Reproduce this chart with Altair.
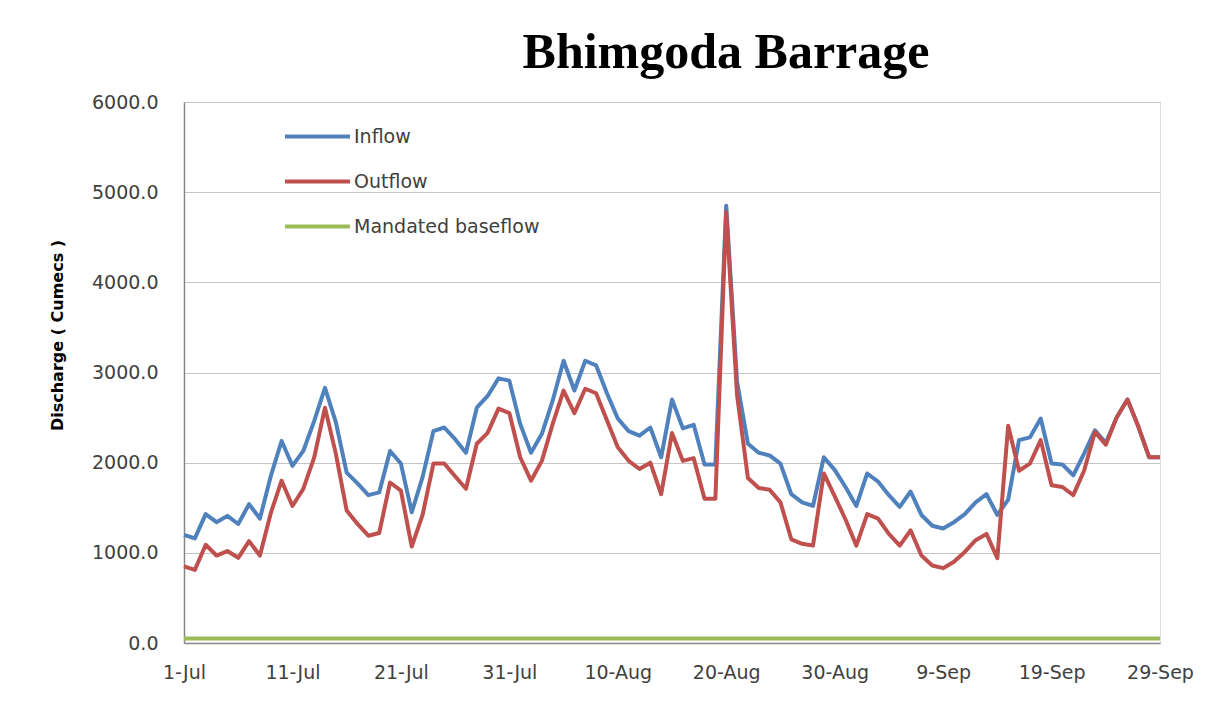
import altair as alt
import pandas as pd

# ---- data ----
days = [d.strftime("%Y-%m-%dT00:00:00") for d in pd.date_range("2010-07-01", "2010-09-29", freq="D")]

inflow = [
    1200, 1160, 1430, 1340, 1410, 1320, 1540, 1380, 1850, 2240,
    1965, 2130, 2460, 2830, 2450, 1890, 1770, 1640, 1670, 2130,
    1990, 1450, 1840, 2350, 2390, 2260, 2110, 2610, 2740, 2935,
    2910, 2430, 2110, 2320, 2690, 3130, 2800, 3130, 3080, 2770,
    2490, 2350, 2300, 2390, 2060, 2700, 2380, 2420, 1980, 1980,
    4850, 2900, 2210, 2110, 2080, 1990, 1650, 1560, 1520, 2060,
    1920, 1730, 1520, 1880, 1790, 1640, 1510, 1680, 1420, 1300,
    1270, 1340, 1430, 1560, 1650, 1420, 1590, 2250, 2280, 2490,
    1990, 1980, 1860, 2100, 2360, 2220, 2500, 2700, 2400, 2060,
    2060,
]

outflow = [
    850, 810, 1090, 970, 1020, 945, 1130, 970, 1440, 1800,
    1520, 1710, 2055, 2610, 2100, 1470, 1320, 1190, 1220, 1780,
    1690, 1070, 1420, 1990, 1990, 1850, 1710, 2210, 2330, 2600,
    2550, 2060, 1800, 2020, 2430, 2800, 2550, 2820, 2770, 2470,
    2170, 2020, 1930, 2000, 1650, 2330, 2020, 2050, 1600, 1600,
    4780, 2750, 1830, 1720, 1700, 1560, 1150, 1100, 1080, 1880,
    1630, 1370, 1080, 1430, 1380, 1210, 1080, 1250, 970, 860,
    830, 900, 1010, 1140, 1210, 940, 2410, 1910, 1990, 2250,
    1750, 1730, 1640, 1910, 2340, 2200, 2500, 2700, 2400, 2060,
    2060,
]

baseflow = [50] * len(days)

series = ["Inflow", "Outflow", "Mandated baseflow"]
colors = ["#4f81bd", "#c0504d", "#9bbb59"]
y_ticks = [0, 1000, 2000, 3000, 4000, 5000, 6000]
x_tick_idx = list(range(0, len(days), 10))

# ---- table ----
rows = []
for name, vals in zip(series, [inflow, outflow, baseflow]):
    for d, v in zip(days, vals):
        rows.append({"date": d, "value": v, "series": name})
df = pd.DataFrame(rows)

def dt(s):
    t = pd.Timestamp(s)
    return alt.DateTime(year=t.year, month=t.month, date=t.day)

tick_values = [dt(days[i]) for i in x_tick_idx]

axis_font = "DejaVu Sans"
label_color = "#404040"

chart = alt.Chart(df).mark_line(strokeJoin="round").encode(
    x=alt.X(
        "date:T",
        scale=alt.Scale(domain=[dt(days[0]), dt(days[-1])]),
        axis=alt.Axis(
            values=tick_values, format="%-d-%b", title=None, grid=False,
            ticks=False, labelFlush=False, labelPadding=20,
            domainColor="#868686", domainWidth=1.5,
            labelFont=axis_font, labelFontSize=19, labelColor=label_color,
        ),
    ),
    y=alt.Y(
        "value:Q",
        scale=alt.Scale(domain=[0, 6000], nice=False),
        axis=alt.Axis(
            values=y_ticks, format=".1f", title="Discharge ( Cumecs )",
            titleX=-127, titleY=233, titleAngle=270,
            titleFont=axis_font, titleFontSize=16, titleFontWeight="bold",
            titleColor="black", titleAlign="center", titleBaseline="middle",
            grid=True, gridColor="#c4c4c4", gridWidth=1,
            ticks=False, labelPadding=26,
            domainColor="#868686", domainWidth=1.5,
            labelFont=axis_font, labelFontSize=19, labelColor=label_color,
        ),
    ),
    color=alt.Color(
        "series:N",
        sort=series,
        scale=alt.Scale(domain=series, range=colors),
        legend=alt.Legend(
            title=None, orient="none", legendX=99, legendY=0,
            direction="vertical",
            symbolType="stroke", symbolSize=4225, symbolStrokeWidth=4,
            labelFont=axis_font, labelFontSize=19, labelColor=label_color,
            labelOffset=2, rowPadding=0, labelLimit=400,
        ),
    ),
    strokeWidth=alt.StrokeWidth(
        "series:N",
        scale=alt.Scale(domain=series, range=[4, 4, 6]),
        legend=None,
    ),
).properties(
    width=976,
    height=541,
    autosize=alt.AutoSizeParams(type="none"),
    padding={"left": 176, "top": 94, "right": 40, "bottom": 70},
    title=alt.TitleParams(
        "Bhimgoda Barrage", font="Liberation Serif", fontSize=50,
        fontWeight="bold", color="black", anchor="middle", frame="group",
        dx=54, dy=55, offset=30, baseline="alphabetic",
    ),
).configure_view(
    stroke="#868686", strokeWidth=1.5
).configure(background="white")

chart.save("out.html", embed_options={"renderer": "svg", "actions": False})
